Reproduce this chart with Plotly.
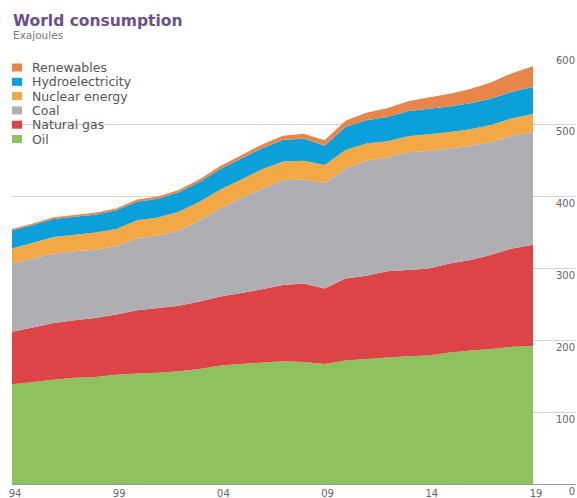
import plotly.graph_objects as go

# ---- data (Exajoules) ----
years = list(range(1994, 2020))
oil = [139, 142, 145, 148, 149, 152, 154, 155, 157, 160, 165, 167, 169, 171, 170, 167,
       172, 174, 176, 178, 179, 183, 186, 188, 191, 192]
natural_gas = [73, 76, 79, 80, 82, 84, 88, 90, 91, 94, 96, 99, 102, 106, 109, 105,
               114, 116, 120, 120, 121, 124, 126, 131, 137, 141]
coal = [95, 96, 97, 96, 95, 95, 100, 101, 105, 113, 123, 132, 140, 146, 145, 147,
        153, 160, 159, 164, 164, 160, 159, 157, 157, 157]
nuclear = [21, 22, 23, 23, 24, 24, 25, 25, 26, 26, 26, 26, 27, 26, 26, 25,
           26, 24, 22, 22, 23, 23, 23, 24, 24, 25]
hydro = [25, 24.5, 25, 25, 25, 26, 26, 26, 27, 27.5, 28.5, 29, 29.5, 30, 31, 27,
         32, 32.5, 34, 35, 35.5, 35.5, 36, 36.5, 37, 37.5]
renewables = [2.1, 2.2, 2.3, 2.5, 2.6, 2.7, 2.9, 3.1, 3.4, 3.8, 4.2, 4.7, 5.2, 5.9, 6.7, 7.6,
              8.8, 10.3, 12.1, 13.9, 15.6, 17.6, 19.9, 22.9, 25.9, 29.0]

series_names = ["Oil", "Natural gas", "Coal", "Nuclear energy", "Hydroelectricity", "Renewables"]
series_values = [oil, natural_gas, coal, nuclear, hydro, renewables]
series_colors = ["#8fc15f", "#dc4448", "#afaeb2", "#f2a845", "#0ba0d9", "#e8864a"]

x_tick_vals = [1994, 1999, 2004, 2009, 2014, 2019]
x_tick_text = ["94", "99", "04", "09", "14", "19"]
y_tick_vals = [0, 100, 200, 300, 400, 500, 600]

title_text = "World consumption"
subtitle_text = "Exajoules"

# ---- figure geometry (page body margin removed via post_script) ----
W, H = 577, 498
L, T = 12, 53
B = H - 484
R = W - 576
plot_w = W - L - R
plot_h = H - T - B

def px_to_paper_x(px):
    return (px - L) / plot_w

def px_to_paper_y(py):
    return (H - B - py) / plot_h

fig = go.Figure()
for name, vals, col in zip(series_names, series_values, series_colors):
    fig.add_trace(go.Scatter(
        x=years, y=vals, name=name, mode="none",
        stackgroup="one", fillcolor=col, line=dict(width=0),
        showlegend=False, hoverinfo="x+y+name",
    ))

font_family = "DejaVu Sans"

# manual legend (Renewables at top)
legend_top = 67.5
legend_step = 14.3
for i, (name, col) in enumerate(zip(series_names[::-1], series_colors[::-1])):
    cy = legend_top + i * legend_step
    fig.add_shape(type="rect", xref="paper", yref="paper",
                  x0=px_to_paper_x(12), x1=px_to_paper_x(22),
                  y0=px_to_paper_y(cy + 4), y1=px_to_paper_y(cy - 4),
                  fillcolor=col, line=dict(width=0), layer="above")
    fig.add_annotation(text=name, xref="paper", yref="paper",
                       x=px_to_paper_x(30), y=px_to_paper_y(cy),
                       xanchor="left", yanchor="middle", showarrow=False,
                       font=dict(family=font_family, size=12.5, color="#555555"))

fig.add_annotation(text="<b>" + title_text + "</b>", xref="paper", yref="paper",
                   x=px_to_paper_x(11), y=px_to_paper_y(21),
                   xanchor="left", yanchor="middle", showarrow=False,
                   font=dict(family=font_family, size=15.5, color="#6d4e8e"))
fig.add_annotation(text=subtitle_text, xref="paper", yref="paper",
                   x=px_to_paper_x(11), y=px_to_paper_y(35.5),
                   xanchor="left", yanchor="middle", showarrow=False,
                   font=dict(family=font_family, size=10.5, color="#7a7a7a"))

x_end = 1994 + 25 * plot_w / (533 - 12)

fig.update_layout(
    width=W, height=H,
    margin=dict(l=L, r=R, t=T, b=B, pad=0),
    paper_bgcolor="white", plot_bgcolor="white",
    showlegend=False,
    font=dict(family=font_family, color="#666666"),
    xaxis=dict(
        range=[1994, x_end], tickvals=x_tick_vals, ticktext=x_tick_text,
        showgrid=False, zeroline=False, showline=True, linecolor="#9a9a9a", linewidth=1,
        ticks="", tickfont=dict(family=font_family, size=10, color="#666666"),
        ticklabelshift=3, ticklabeloverflow="allow",
        automargin=False, fixedrange=True,
    ),
    yaxis=dict(
        range=[0, 600], tickvals=y_tick_vals,
        anchor="free", position=1, side="left",
        showgrid=True, gridcolor="#d4d4d4", gridwidth=1, zeroline=False,
        showline=False, ticks="", ticklabelstandoff=1,
        ticklabelshift=7, ticklabeloverflow="allow",
        tickfont=dict(family=font_family, size=10, color="#666666"),
        automargin=False, fixedrange=True,
    ),
)

fig.write_html(
    "out.html",
    config={"displayModeBar": False},
    post_script="document.body.style.margin='0';document.body.style.overflow='hidden';",
)
